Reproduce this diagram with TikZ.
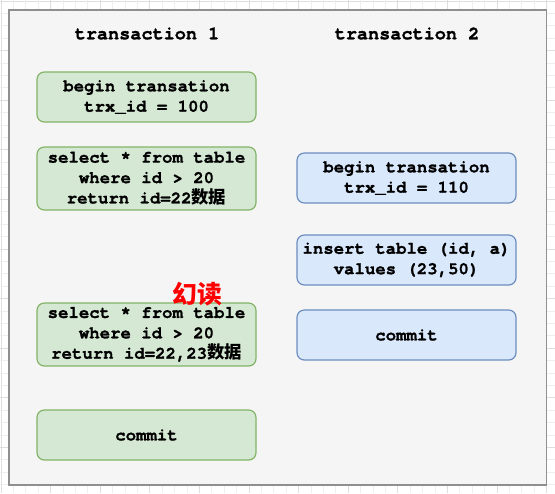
\documentclass[tikz,border=0pt]{standalone}
\usepackage{fontspec}
\setmonofont{TeX Gyre Cursor}[BoldFeatures={FakeBold=1.2}]
\newfontfamily\cjk{Noto Sans CJK SC}
\definecolor{gfill}{HTML}{D5E8D4}
\definecolor{gline}{HTML}{82B366}
\definecolor{bfill}{HTML}{DAE8FC}
\definecolor{bline}{HTML}{6C8EBF}
\definecolor{outfill}{HTML}{F5F5F5}
\definecolor{outline}{HTML}{8F8F8F}
\definecolor{gridminor}{HTML}{EEEEEE}
\definecolor{gridmajor}{HTML}{DEDEDE}
\tikzset{
  px/.style={x=0.75pt,y=-0.75pt},
  box/.style={rounded corners=5.5pt, line width=0.9pt, minimum width=164.25pt,
    align=center, font=\ttfamily\bfseries\fontsize{13}{15.3}\selectfont, inner sep=0pt},
  gbox/.style={box, fill=gfill, draw=gline},
  bbox/.style={box, fill=bfill, draw=bline},
  title/.style={font=\ttfamily\bfseries\fontsize{13.9}{16}\selectfont},
}
\begin{document}
\begin{tikzpicture}[px]
\useasboundingbox (0,0) rectangle (555,493);
\fill[white] (0,0) rectangle (555,493);
\foreach \k in {0,...,44} {
  \pgfmathsetmacro{\p}{1+12.4*\k}
  \pgfmathtruncatemacro{\m}{mod(\k,4)}
  \ifnum\m=0
    \draw[gridmajor, line width=0.6pt] (\p,0) -- (\p,493);
    \draw[gridmajor, line width=0.6pt] (0,\p) -- (555,\p);
  \else
    \draw[gridminor, line width=0.6pt] (\p,0) -- (\p,493);
    \draw[gridminor, line width=0.6pt] (0,\p) -- (555,\p);
  \fi
}
\node[draw=outline, fill=outfill, line width=1pt, minimum width=403pt, minimum height=356.25pt, inner sep=0pt] (outer) at (277.5,247.5) {};
\node[title] (t1) at (147,33.5) {transaction 1};
\node[title] (t2) at (407,33.5) {transaction 2};
\node[gbox, minimum height=37.5pt] (g1) at (146.5,97) {begin transation\\trx\_id = 100};
\node[gbox, minimum height=47.25pt] (g2) at (146.5,178.5) {select * from table\\where id > 20\\return id=22{\cjk 数据}};
\node[gbox, minimum height=47.25pt] (g3) at (146.5,334.5) {select * from table\\where id > 20\\return id=22,23{\cjk 数据}};
\node[gbox, minimum height=37.5pt] (g4) at (146.5,435) {commit};
\node[bbox, minimum height=37.5pt] (b1) at (406.5,178) {begin transation\\trx\_id = 110};
\node[bbox, minimum height=37.5pt] (b2) at (406.5,260) {insert table (id, a)\\values (23,50)};
\node[bbox, minimum height=37.5pt] (b3) at (406.5,335) {commit};
\node[font=\cjk\bfseries\fontsize{18.6}{20}\selectfont, text=red] (ph) at (197,294) {幻读};
\end{tikzpicture}
\end{document}
